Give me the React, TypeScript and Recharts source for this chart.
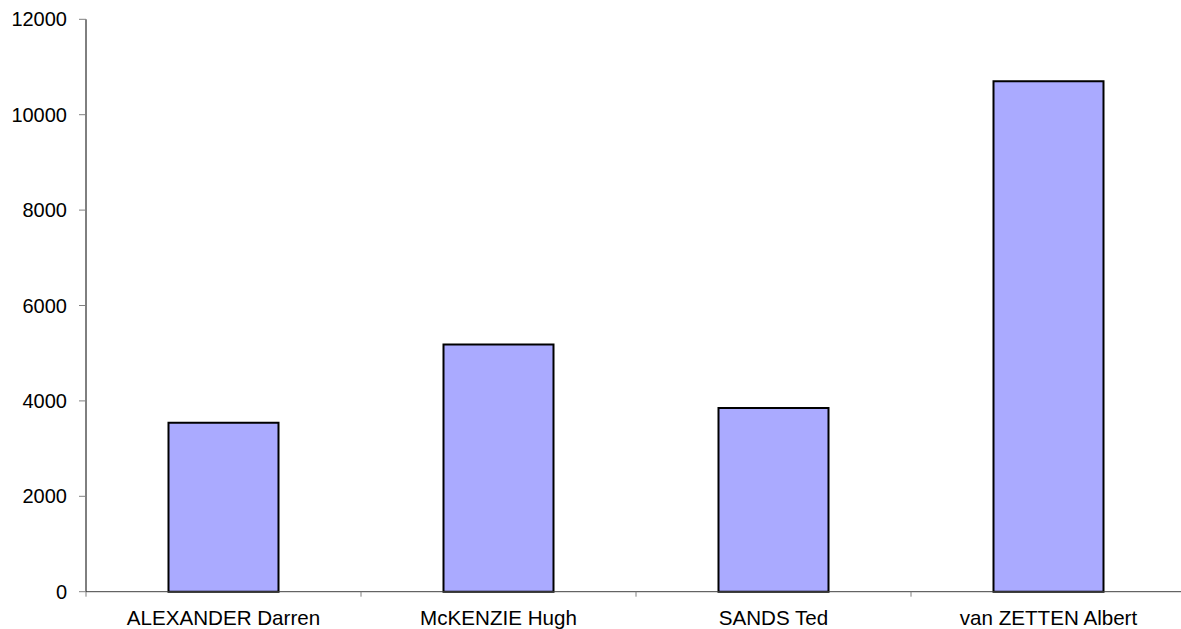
import React from "react";
import { BarChart, Bar, XAxis, YAxis } from "recharts";

const names = ["ALEXANDER Darren", "McKENZIE Hugh", "SANDS Ted", "van ZETTEN Albert"];
const values = [3540, 5180, 3850, 10700];
const yTicks = [0, 2000, 4000, 6000, 8000, 10000, 12000];

const data = names.map((name, i) => ({ name, value: values[i] }));

const fontFamily = "'Liberation Sans', Arial, sans-serif";
const yFont = { fontFamily, fontSize: 20, fill: "#000" };
const X_TICK_MARGIN = 19;
const X_TICK_LEN = 5;

function CatTick(props: any) {
  const { x, y, payload, index, visibleTicksCount } = props;
  const half = payload && payload.offset ? payload.offset : 0;
  const axisY = y - X_TICK_MARGIN;
  const isLast = index === (visibleTicksCount ?? 0) - 1;
  return (
    <g>
      <line x1={x - half} x2={x - half} y1={axisY} y2={axisY + X_TICK_LEN} stroke="#808080" strokeWidth={1} />
      {isLast && (
        <line x1={x + half} x2={x + half} y1={axisY} y2={axisY + X_TICK_LEN} stroke="#808080" strokeWidth={1} />
      )}
      <text
        x={x}
        y={y}
        dy="0.71em"
        textAnchor="middle"
        fontFamily={fontFamily}
        fontSize={20.6}
        fill="#000"
      >
        {payload.value}
      </text>
    </g>
  );
}

export default function App() {
  return (
    <div style={{ position: "absolute", left: 0, top: 0, width: 1181, height: 629, overflow: "hidden", background: "#fff" }}>
      <BarChart
        width={1186}
        height={629}
        data={data}
        margin={{ top: 19.3, right: 0, bottom: 0, left: 0 }}
        barCategoryGap="30%"
      >
        <XAxis
          dataKey="name"
          type="category"
          height={37.3}
          axisLine={{ stroke: "#404040", strokeWidth: 1 }}
          tickLine={false}
          tickSize={0}
          tickMargin={X_TICK_MARGIN}
          tick={<CatTick />}
          interval={0}
        />
        <YAxis
          width={86}
          domain={[0, 12000]}
          ticks={yTicks}
          interval={0}
          tickSize={7}
          tickMargin={12}
          tick={yFont}
          axisLine={{ stroke: "#000", strokeWidth: 1 }}
          tickLine={{ stroke: "#808080", strokeWidth: 1 }}
        />
        <Bar
          dataKey="value"
          fill="#AAAAFF"
          stroke="#000"
          strokeWidth={2}
          isAnimationActive={false}
        />
      </BarChart>
    </div>
  );
}
